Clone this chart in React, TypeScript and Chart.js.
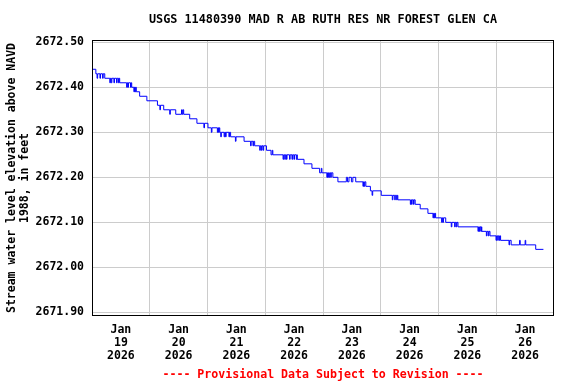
import React, { useEffect, useRef } from 'react';
import { Chart, registerables } from 'chart.js';

Chart.register(...registerables);

const TITLE = 'USGS 11480390 MAD R AB RUTH RES NR FOREST GLEN CA';
const Y_TITLE = ['Stream water level elevation above NAVD', '1988, in feet'];
const FOOTER = '---- Provisional Data Subject to Revision ----';
const MONTH = 'Jan';
const YEAR = '2026';
const DAYS = ['19', '20', '21', '22', '23', '24', '25', '26'];
const Y_TICKS = [2671.9, 2672.0, 2672.1, 2672.2, 2672.3, 2672.4, 2672.5];

// hours since Jan 19 2026 00:00
const HOURS = [
  0, 1.6, 2.1, 2.35, 3.3, 3.55, 4.4, 4.65, 5.3, 7.4, 7.65, 8.0, 8.25, 9.1, 9.35, 10.2, 10.45, 11.0, 11.25, 11.5,
  14.4, 14.65, 14.9, 15.15, 16.0, 16.25, 16.5, 17.4, 17.65, 17.9, 18.15, 18.4, 19.8, 22.8, 27.2, 28.2, 28.45,
  29.8, 32.3, 32.55, 34.8, 37.2, 37.5, 37.8, 38.1, 40.6, 43.6, 46.5, 46.75, 48.2, 49.6, 49.85, 52.1, 52.35,
  52.6, 52.85, 53.1, 53.5, 53.75, 54.9, 55.15, 55.5, 55.75, 56.9, 57.15, 57.6, 59.6, 59.85, 63.2, 65.9, 66.15,
  66.9, 67.15, 67.6, 69.7, 69.95, 70.4, 70.65, 71.1, 71.35, 72.5, 74.4, 74.9, 75.15, 79.4, 79.65, 80.1, 80.35,
  80.8, 81.05, 82.1, 82.35, 83.1, 83.35, 83.9, 84.15, 84.9, 85.15, 85.3, 88.1, 91.4, 94.6, 95.3, 95.55, 97.6,
  97.85, 98.0, 98.25, 98.6, 98.85, 99.2, 99.45, 100.1, 102.2, 105.7, 106.2, 106.8, 107.8, 108.4, 109.6, 112.6,
  112.85, 113.1, 113.35, 113.8, 115.7, 116.4, 116.65, 120.2, 124.8, 125.05, 125.8, 126.05, 126.6, 126.85, 127.1,
  132.3, 132.55, 132.8, 133.05, 133.6, 133.85, 134.3, 136.4, 139.6, 141.7, 141.95, 142.3, 142.55, 142.8, 145.3,
  145.55, 145.8, 146.05, 147.0, 149.3, 149.55, 150.7, 150.95, 151.4, 151.65, 152.1, 160.4, 160.65, 161.0, 161.25,
  161.6, 161.85, 162.0, 163.9, 164.15, 164.7, 164.95, 165.4, 167.9, 168.15, 168.6, 168.85, 169.3, 169.55, 169.8,
  173.3, 173.55, 174.2, 177.7, 177.95, 180.0, 180.25, 184.4, 187.6,
];

const LEVELS = [
  2672.44, 2672.43, 2672.42, 2672.43, 2672.42, 2672.43, 2672.42, 2672.43, 2672.42, 2672.41, 2672.42, 2672.41, 2672.42, 2672.41, 2672.42, 2672.41, 2672.42, 2672.41, 2672.42, 2672.41,
  2672.40, 2672.41, 2672.40, 2672.41, 2672.40, 2672.41, 2672.40, 2672.39, 2672.40, 2672.39, 2672.40, 2672.39, 2672.38, 2672.37, 2672.36, 2672.35, 2672.36,
  2672.35, 2672.34, 2672.35, 2672.34, 2672.35, 2672.34, 2672.35, 2672.34, 2672.33, 2672.32, 2672.31, 2672.32, 2672.31, 2672.30, 2672.31, 2672.30, 2672.31,
  2672.30, 2672.31, 2672.30, 2672.29, 2672.30, 2672.29, 2672.30, 2672.29, 2672.30, 2672.29, 2672.30, 2672.29, 2672.28, 2672.29, 2672.28, 2672.27, 2672.28,
  2672.27, 2672.28, 2672.27, 2672.26, 2672.27, 2672.26, 2672.27, 2672.26, 2672.27, 2672.26, 2672.25, 2672.26, 2672.25, 2672.24, 2672.25, 2672.24, 2672.25,
  2672.24, 2672.25, 2672.24, 2672.25, 2672.24, 2672.25, 2672.24, 2672.25, 2672.24, 2672.25, 2672.24, 2672.23, 2672.22, 2672.21, 2672.22, 2672.21, 2672.20,
  2672.21, 2672.20, 2672.21, 2672.20, 2672.21, 2672.20, 2672.21, 2672.20, 2672.19, 2672.20, 2672.19, 2672.20, 2672.19, 2672.20, 2672.19, 2672.18,
  2672.19, 2672.18, 2672.19, 2672.18, 2672.17, 2672.16, 2672.17, 2672.16, 2672.15, 2672.16, 2672.15, 2672.16, 2672.15, 2672.16, 2672.15,
  2672.14, 2672.15, 2672.14, 2672.15, 2672.14, 2672.15, 2672.14, 2672.13, 2672.12, 2672.11, 2672.12, 2672.11, 2672.12, 2672.11, 2672.10,
  2672.11, 2672.10, 2672.11, 2672.10, 2672.09, 2672.10, 2672.09, 2672.10, 2672.09, 2672.10, 2672.09, 2672.08, 2672.09, 2672.08, 2672.09,
  2672.08, 2672.09, 2672.08, 2672.07, 2672.08, 2672.07, 2672.08, 2672.07, 2672.06, 2672.07, 2672.06, 2672.07, 2672.06, 2672.07, 2672.06,
  2672.05, 2672.06, 2672.05, 2672.06, 2672.05, 2672.06, 2672.05, 2672.04, 2672.04,
];

const FONT = "'DejaVu Sans Mono', monospace";

const framePlugin = {
  id: 'frame',
  afterDraw(chart: any) {
    const { ctx, chartArea } = chart;
    const cx = (chartArea.left + chartArea.right) / 2;
    ctx.save();
    ctx.strokeStyle = '#000000';
    ctx.lineWidth = 1;
    ctx.strokeRect(chartArea.left + 0.5, chartArea.top + 0.5, chartArea.right - chartArea.left - 1, chartArea.bottom - chartArea.top - 1);
    ctx.textAlign = 'center';
    ctx.textBaseline = 'middle';
    ctx.fillStyle = '#000000';
    ctx.font = `bold 11.8px ${FONT}`;
    ctx.fillText(TITLE, cx, 20);
    ctx.fillStyle = '#ff0000';
    ctx.font = `bold 11.6px ${FONT}`;
    ctx.fillText(FOOTER, cx, 375);
    ctx.restore();
  },
};

export default function App() {
  const ref = useRef<HTMLCanvasElement | null>(null);
  useEffect(() => {
    if (!ref.current) return;
    const xTickValues: number[] = [];
    DAYS.forEach((_, i) => {
      xTickValues.push(i * 24 + 12);
      if (i < DAYS.length - 1) xTickValues.push((i + 1) * 24);
    });
    const chart = new Chart(ref.current, {
      type: 'line',
      data: {
        datasets: [
          {
            data: HOURS.map((h, i) => ({ x: h, y: LEVELS[i] })),
            borderColor: '#0000ff',
            borderWidth: 1,
            pointRadius: 0,
            stepped: true,
            fill: false,
          },
        ],
      },
      plugins: [framePlugin],
      options: {
        animation: false,
        responsive: true,
        maintainAspectRatio: false,
        layout: { padding: { left: 0, right: 22, top: 40, bottom: 22 } },
        plugins: {
          legend: { display: false },
          tooltip: { enabled: false },
          title: { display: false },
        },
        scales: {
          x: {
            type: 'linear',
            min: 0,
            max: 192,
            border: { display: false },
            afterBuildTicks: (axis: any) => {
              axis.ticks = xTickValues.map((v) => ({ value: v }));
            },
            afterFit: (axis: any) => {
              axis.height = 46;
            },
            grid: {
              drawTicks: false,
              color: (c: any) => (c.tick && c.tick.value % 24 === 0 ? '#cccccc' : 'rgba(0,0,0,0)'),
              lineWidth: 1,
            },
            ticks: {
              autoSkip: false,
              maxRotation: 0,
              minRotation: 0,
              padding: 7.5,
              color: '#000000',
              font: { family: FONT, size: 11.5, weight: 'bold', lineHeight: 13 / 11.5 },
              callback: (value: any) => {
                const v = Number(value);
                if (v % 24 !== 12) return '';
                return [MONTH, DAYS[Math.floor(v / 24)], YEAR];
              },
            },
          },
          y: {
            min: 2671.892,
            max: 2672.505,
            border: { display: false },
            afterBuildTicks: (axis: any) => {
              axis.ticks = Y_TICKS.map((v) => ({ value: v }));
            },
            afterFit: (axis: any) => {
              axis.width = 92;
            },
            grid: { drawTicks: false, color: '#cccccc', lineWidth: 1 },
            ticks: {
              padding: 8,
              color: '#000000',
              font: { family: FONT, size: 11.5, weight: 'bold' },
              callback: (value: any) => Number(value).toFixed(2),
            },
            title: {
              display: true,
              text: Y_TITLE,
              color: '#000000',
              font: { family: FONT, size: 11.5, weight: 'bold', lineHeight: 1.1 },
              padding: { top: 6, bottom: 0 },
            },
          },
        },
      },
    } as any);
    return () => chart.destroy();
  }, []);
  return (
    <div style={{ position: 'fixed', left: 0, top: 0, width: 576, height: 384, background: '#ffffff' }}>
      <canvas ref={ref} />
    </div>
  );
}
